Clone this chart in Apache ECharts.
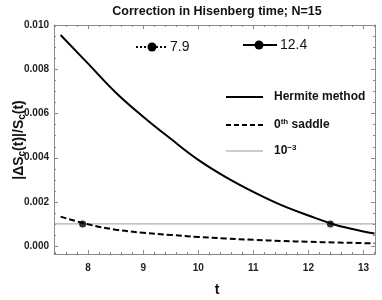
<!DOCTYPE html>
<html><head><meta charset="utf-8">
<script src="https://cdn.jsdelivr.net/npm/echarts@6/dist/echarts.min.js"></script>
<style>html,body{margin:0;padding:0;background:#fff}#c{width:382px;height:300px}</style>
</head><body><div id="c"></div>
<script>
var tValues = [7.5, 8, 8.5, 9, 9.5, 10, 10.5, 11, 11.5, 12, 12.5, 13, 13.2];
var hermite = [9.55, 8.25, 6.95, 5.85, 4.85, 3.9, 3.12, 2.45, 1.86, 1.38, 0.95, 0.66, 0.57];
var saddle  = [1.33, 0.98, 0.74, 0.6, 0.5, 0.41, 0.34, 0.28, 0.23, 0.19, 0.16, 0.13, 0.12];
var crossT = [7.9, 12.4];
var crossV = [1.0, 1.0];
var threshold = 1.0;
var xMajor = [8, 9, 10, 11, 12, 13];
var yMajor = [0, 0.002, 0.004, 0.006, 0.008, 0.010];
var yLabels = ['0.000', '0.002', '0.004', '0.006', '0.008', '0.010'];
var scale = 1e-3;

var xMin = 7.38, xMax = 13.21, yMin = -0.000362, yMax = 0.010;
var xMinor = [];
for (var i = 37; i <= 66; i++) { var v = i / 5; if (Math.abs(v - Math.round(v)) > 1e-9) xMinor.push(+v.toFixed(1)); }
var yMinor = [];
for (var j = 0; j <= 20; j++) { var w = j * 0.0005; if (j % 4 !== 0) yMinor.push(+w.toFixed(4)); }

function pairs(xs, ys) { return xs.map(function (x, k) { return [x, ys[k] * scale]; }); }

var frameColor = '#8a8a8a';
var F = 'Liberation Sans, Arial';
var lblFont = { fontFamily: F, fontWeight: 'bold', fontSize: 10, color: '#222' };

var chart = echarts.init(document.getElementById('c'), null, { renderer: 'canvas' });
var G = { left: 54, right: 7, top: 25, bottom: 46 };
var option = {
  animation: false,
  grid: G,
  xAxis: [
    { type: 'value', position: 'bottom', min: xMin, max: xMax,
      axisLine: { show: true, onZero: false, lineStyle: { color: frameColor } }, axisTick: { show: false }, splitLine: { show: false },
      axisLabel: Object.assign({ customValues: xMajor, margin: 9, formatter: function (v) { return String(Math.round(v)); } }, lblFont) },
    { type: 'value', position: 'top', min: xMin, max: xMax,
      axisLine: { show: true, onZero: false, lineStyle: { color: frameColor } }, axisTick: { show: false }, splitLine: { show: false }, axisLabel: { show: false } }
  ],
  yAxis: [
    { type: 'value', position: 'left', min: yMin, max: yMax,
      axisLine: { show: true, onZero: false, lineStyle: { color: frameColor } }, axisTick: { show: false }, splitLine: { show: false },
      axisLabel: Object.assign({ customValues: yMajor, margin: 5, formatter: function (v) { var k = yMajor.findIndex(function (m) { return Math.abs(m - v) < 1e-7; }); return k >= 0 ? yLabels[k] : ''; } }, lblFont) },
    { type: 'value', position: 'right', min: yMin, max: yMax,
      axisLine: { show: true, onZero: false, lineStyle: { color: frameColor } }, axisTick: { show: false }, splitLine: { show: false }, axisLabel: { show: false } }
  ],
  series: [
    { type: 'line', name: '10^-3', data: [[xMin, threshold * scale], [xMax, threshold * scale]], showSymbol: false, symbol: 'none',
      lineStyle: { color: '#999', width: 1 }, z: 1 },
    { type: 'line', name: 'Hermite method', data: pairs(tValues, hermite), smooth: 0.4, showSymbol: false, symbol: 'none',
      lineStyle: { color: '#000', width: 2 }, z: 3 },
    { type: 'line', name: '0th saddle', data: pairs(tValues, saddle), smooth: 0.4, showSymbol: false, symbol: 'none',
      lineStyle: { color: '#000', width: 2, type: [6, 3] }, z: 3 },
    { type: 'scatter', data: pairs(crossT, crossV), symbolSize: 7, itemStyle: { color: '#000' }, z: 5 }
  ]
};
chart.setOption(option);

var gfx = [
  { type: 'text', x: 217, y: 12, style: { text: 'Correction in Hisenberg time; N=15', font: 'bold 12.5px ' + F, fill: '#111', align: 'center', verticalAlign: 'middle' } },
  { type: 'text', x: 217, y: 290, style: { text: 't', font: 'bold 14px ' + F, fill: '#111', align: 'center', verticalAlign: 'middle' } },
  { type: 'text', x: 19, y: 140, rotation: Math.PI / 2,
    style: { text: '{a|\u007CΔS}{s|c}{a|(t)\u007C/S}{s|c}{a|(t)}', align: 'center', verticalAlign: 'middle',
      rich: { a: { font: 'bold 14px ' + F, fill: '#111', lineHeight: 17 }, s: { font: 'bold 10px ' + F, fill: '#111', lineHeight: 9, verticalAlign: 'bottom' } } } },
  { type: 'line', shape: { x1: 226, y1: 97, x2: 263, y2: 97 }, style: { stroke: '#000', lineWidth: 2 } },
  { type: 'text', x: 274, y: 97, style: { text: 'Hermite method', font: 'bold 12px ' + F, fill: '#111', verticalAlign: 'middle' } },
  { type: 'line', shape: { x1: 226, y1: 125, x2: 263, y2: 125 }, style: { stroke: '#000', lineWidth: 2, lineDash: [5, 3] } },
  { type: 'text', x: 274, y: 125, style: { text: '{a|0}{s|th}{a| saddle}', verticalAlign: 'middle', rich: { a: { font: 'bold 12px ' + F, fill: '#111' }, s: { font: 'bold 8px ' + F, fill: '#111', verticalAlign: 'top', padding: [0, 0, 6, 0] } } } },
  { type: 'line', shape: { x1: 226, y1: 151, x2: 263, y2: 151 }, style: { stroke: '#999', lineWidth: 1 } },
  { type: 'text', x: 274, y: 151, style: { text: '{a|10}{s|\u22123}', verticalAlign: 'middle', rich: { a: { font: 'bold 12px ' + F, fill: '#111' }, s: { font: 'bold 8px ' + F, fill: '#111', verticalAlign: 'top', padding: [0, 0, 6, 0] } } } },
  { type: 'line', shape: { x1: 136, y1: 47, x2: 167, y2: 47 }, style: { stroke: '#000', lineWidth: 2, lineDash: [2, 2] } },
  { type: 'circle', shape: { cx: 152, cy: 47, r: 4.5 }, style: { fill: '#000' } },
  { type: 'text', x: 170, y: 47, style: { text: '7.9', font: '14px ' + F, fill: '#111', verticalAlign: 'middle' } },
  { type: 'line', shape: { x1: 243, y1: 45, x2: 277, y2: 45 }, style: { stroke: '#000', lineWidth: 2 } },
  { type: 'circle', shape: { cx: 259, cy: 45, r: 4.5 }, style: { fill: '#000' } },
  { type: 'text', x: 280, y: 45, style: { text: '12.4', font: '14px ' + F, fill: '#111', verticalAlign: 'middle' } }
];

// frame ticks (inside, on all four sides), placed through the axes' own scales
var cw = 382, ch = 300;
var pTop = G.top, pBottom = ch - G.bottom, pLeft = G.left, pRight = cw - G.right;
function addX(vals, len) {
  vals.forEach(function (v) {
    var px = Math.round(chart.convertToPixel({ xAxisIndex: 0 }, v)) + 0.5;
    gfx.push({ type: 'line', silent: true, shape: { x1: px, y1: pBottom, x2: px, y2: pBottom - len }, style: { stroke: frameColor, lineWidth: 1 } });
    gfx.push({ type: 'line', silent: true, shape: { x1: px, y1: pTop, x2: px, y2: pTop + len }, style: { stroke: frameColor, lineWidth: 1 } });
  });
}
function addY(vals, len) {
  vals.forEach(function (v) {
    var py = Math.round(chart.convertToPixel({ yAxisIndex: 0 }, v)) + 0.5;
    gfx.push({ type: 'line', silent: true, shape: { x1: pLeft, y1: py, x2: pLeft + len, y2: py }, style: { stroke: frameColor, lineWidth: 1 } });
    gfx.push({ type: 'line', silent: true, shape: { x1: pRight, y1: py, x2: pRight - len, y2: py }, style: { stroke: frameColor, lineWidth: 1 } });
  });
}
addX(xMajor, 4); addX(xMinor, 2); addY(yMajor, 4); addY(yMinor, 2);
chart.setOption({ graphic: gfx });
</script></body></html>
